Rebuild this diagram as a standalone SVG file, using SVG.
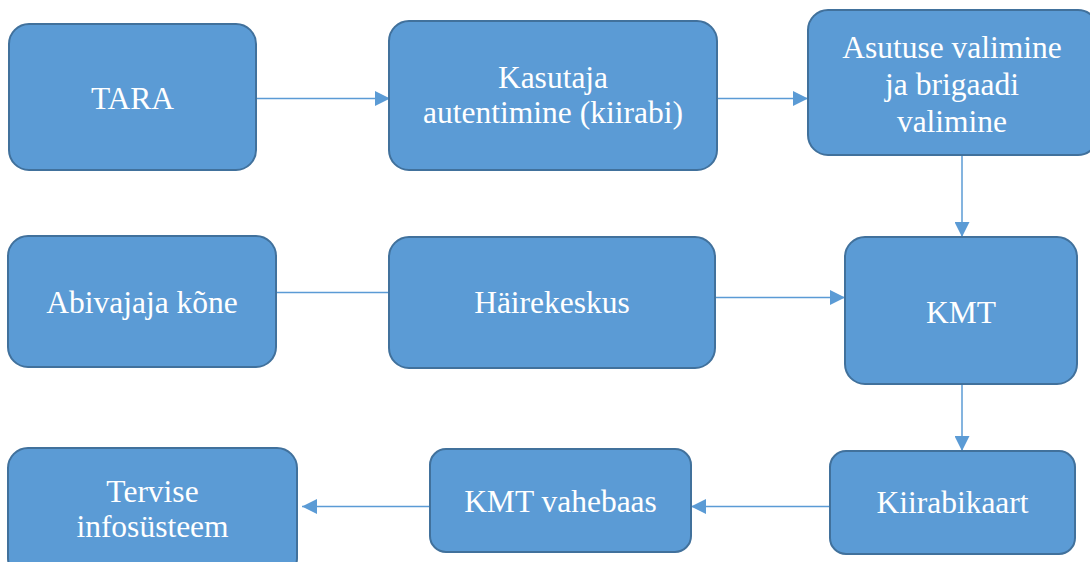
<svg xmlns="http://www.w3.org/2000/svg" width="1090" height="562" viewBox="0 0 1090 562">
<defs>
<style>
.box{fill:#5B9BD5;stroke:#41719C;stroke-width:2}
.lbl{font-family:'Liberation Serif','DejaVu Serif',serif;font-size:31.5px;fill:#FFFFFF;text-anchor:middle}
.conn{stroke:#5B9BD5;stroke-width:1.5;fill:none}
</style>
<marker id="arr" viewBox="0 0 15 15" refX="15" refY="7.5" markerWidth="15" markerHeight="15" markerUnits="userSpaceOnUse" orient="auto">
<path d="M0,0 L15,7.5 L0,15 Z" fill="#5B9BD5"/>
</marker>
</defs>
<rect width="1090" height="562" fill="#FFFFFF"/>
<g id="connectors">
<line class="conn" x1="256" y1="98.5" x2="390" y2="98.5" marker-end="url(#arr)"/>
<line class="conn" x1="717" y1="98.5" x2="808" y2="98.5" marker-end="url(#arr)"/>
<line class="conn" x1="962" y1="155" x2="962" y2="237" marker-end="url(#arr)"/>
<line class="conn" x1="276" y1="292.5" x2="389" y2="292.5"/>
<line class="conn" x1="715" y1="297.5" x2="845" y2="297.5" marker-end="url(#arr)"/>
<line class="conn" x1="962" y1="384" x2="962" y2="451" marker-end="url(#arr)"/>
<line class="conn" x1="830" y1="506.5" x2="691" y2="506.5" marker-end="url(#arr)"/>
<line class="conn" x1="430" y1="506.5" x2="302" y2="506.5" marker-end="url(#arr)"/>
</g>
<g id="tara">
<rect class="box" x="9" y="24" width="247" height="146" rx="20"/>
<text class="lbl" x="132.5" y="109" font-family="Liberation Serif, serif">TARA</text>
</g>
<g id="kasutaja">
<rect class="box" x="389" y="21" width="328" height="149" rx="20"/>
<text class="lbl" x="553" y="88">Kasutaja</text>
<text class="lbl" x="553" y="123">autentimine (kiirabi)</text>
</g>
<g id="asutuse">
<rect class="box" x="808" y="10" width="290" height="145" rx="20"/>
<text class="lbl" x="952" y="58">Asutuse valimine</text>
<text class="lbl" x="952" y="95">ja brigaadi</text>
<text class="lbl" x="952" y="132">valimine</text>
</g>
<g id="abivajaja">
<rect class="box" x="8" y="236" width="268" height="131" rx="20"/>
<text class="lbl" x="142" y="313">Abivajaja kõne</text>
</g>
<g id="hairekeskus">
<rect class="box" x="389" y="237" width="326" height="131" rx="20"/>
<text class="lbl" x="552" y="313">Häirekeskus</text>
</g>
<g id="kmt">
<rect class="box" x="845" y="237" width="232" height="147" rx="20"/>
<text class="lbl" x="961" y="323">KMT</text>
</g>
<g id="kiirabikaart">
<rect class="box" x="830" y="451" width="245" height="103" rx="16"/>
<text class="lbl" x="952.5" y="513">Kiirabikaart</text>
</g>
<g id="vahebaas">
<rect class="box" x="430" y="449" width="261" height="103" rx="16"/>
<text class="lbl" x="560.5" y="512">KMT vahebaas</text>
</g>
<g id="tervise">
<rect class="box" x="8" y="448" width="289" height="130" rx="20"/>
<text class="lbl" x="152.5" y="502">Tervise</text>
<text class="lbl" x="152.5" y="537">infosüsteem</text>
</g>
</svg>
